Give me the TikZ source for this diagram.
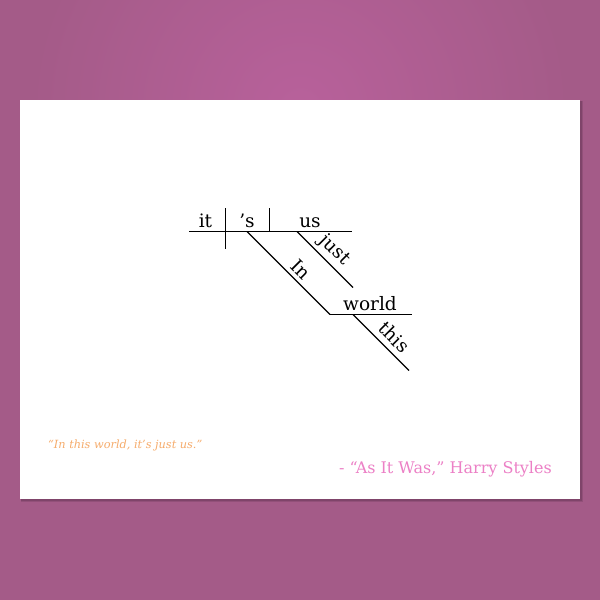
\documentclass[tikz,border=0pt]{standalone}
\usepackage{fontspec}
\setmainfont{DejaVu Serif}
\usepackage{tikz}
\usetikzlibrary{positioning}
\definecolor{bgpurple}{HTML}{A45B88}
\definecolor{bglight}{HTML}{B8619B}
\definecolor{quoteorange}{HTML}{F6AC6C}
\definecolor{songpink}{HTML}{EC80C6}
\definecolor{shadowpurple}{HTML}{5E3050}

\begin{document}
\begin{tikzpicture}[x=1pt,y=-1pt,
  word/.style={font=\fontsize{18.5}{20}\selectfont, inner sep=0pt, anchor=base},
  slant/.style={font=\fontsize{18.5}{20}\selectfont, sloped, above, inner sep=4pt},
  rule/.style={line width=1.2pt}]
\useasboundingbox (0,0) rectangle (600,600);
% background and card
\fill[bgpurple] (0,0) rectangle (600,600);
\shade[inner color=bglight, outer color=bgpurple] (300,110) circle (270);
\fill[shadowpurple, opacity=0.25] (21,101) rectangle (583,502);
\fill[shadowpurple, opacity=0.35] (21,101) rectangle (581.5,500.5);
\fill[white] (20,100) rectangle (580,499);
% main line
\coordinate (b1) at (189,231.5);
\coordinate (b2) at (352,231.5);
\draw[rule] (b1) -- (b2);
\coordinate (s1) at (225.6,208);
\coordinate (s2) at (225.6,249);
\draw[rule] (s1) -- (s2);
\coordinate (v1) at (269.5,208);
\coordinate (v2) at (269.5,231.5);
\draw[rule] (v1) -- (v2);
\node[word] (it) at (205.5,227) {it};
\node[word] (is) at (247,227) {’s};
\node[word] (us) at (310,227) {us};
% modifiers
\coordinate (j1) at (297,231.5);
\coordinate (j2) at (353,287.5);
\draw[rule] (j1) -- (j2) node[slant, pos=0.5] (just) {just};
\coordinate (p1) at (247,231.5);
\coordinate (p2) at (330,314.5);
\draw[rule] (p1) -- (p2) node[slant, pos=0.55] (in) {In};
\coordinate (w2) at (412,314.5);
\draw[rule] (p2) -- (w2);
\node[word] (world) at (370,310) {world};
\coordinate (t1) at (353,314.5);
\coordinate (t2) at (409,370.5);
\draw[rule] (t1) -- (t2) node[slant, pos=0.57, inner sep=5.5pt] (this) {this};
% quote and credit
\node[anchor=base west, inner sep=0pt, text=quoteorange,
  font=\itshape\fontsize{11.3}{13}\selectfont] (quote) at (48,448.3) {“In this world, it’s just us.”};
\node[anchor=base east, inner sep=0pt, text=songpink,
  font=\fontsize{16}{18}\selectfont] (credit) at (552,473) {- “As It Was,” Harry Styles};
\end{tikzpicture}
\end{document}
